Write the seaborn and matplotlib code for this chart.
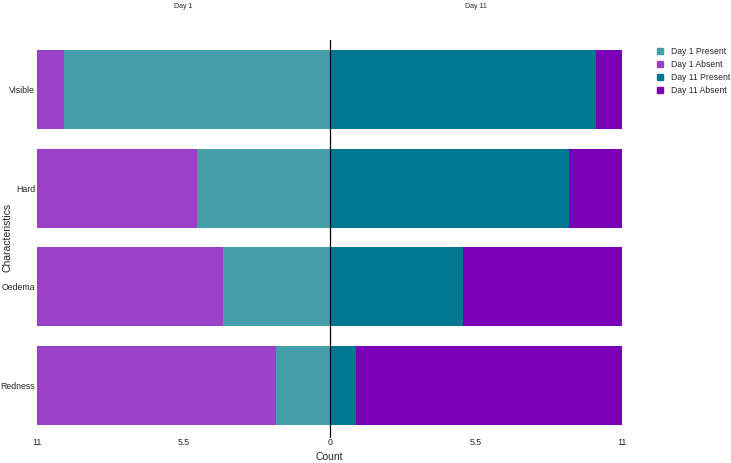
import numpy as np
import pandas as pd
import matplotlib.pyplot as plt
import seaborn as sns
from matplotlib.patches import Patch

# -------------------- DATA --------------------
characteristics = ["Visible", "Hard", "Oedema", "Redness"]
day1_present = [10, 5, 4, 2]
day1_absent = [1, 6, 7, 9]
day11_present = [10, 9, 5, 1]
day11_absent = [1, 2, 6, 10]

col_d1_present = "#479EAB"
col_d1_absent = "#9B40C8"
col_d11_present = "#00788F"
col_d11_absent = "#7A00B8"

df = pd.DataFrame({
    "char": characteristics,
    "d1_present": day1_present,
    "d1_total": np.array(day1_present) + np.array(day1_absent),
    "d11_present": day11_present,
    "d11_total": np.array(day11_present) + np.array(day11_absent),
})
df["d1_present_neg"] = -df["d1_present"]
df["d1_total_neg"] = -df["d1_total"]

# -------------------- PLOT --------------------
sns.set_style("white")
plt.rcParams["font.family"] = ["Liberation Sans", "DejaVu Sans"]

fig = plt.figure(figsize=(7.31, 4.63), dpi=100)
ax = fig.add_axes([0.0506, 0.0605, 0.8005, 0.853])

kw = dict(y="char", orient="h", width=0.8, ax=ax, linewidth=0, order=characteristics)
sns.barplot(data=df, x="d1_total_neg", color=col_d1_absent, saturation=1, **kw)
sns.barplot(data=df, x="d1_present_neg", color=col_d1_present, saturation=1, **kw)
sns.barplot(data=df, x="d11_total", color=col_d11_absent, saturation=1, **kw)
sns.barplot(data=df, x="d11_present", color=col_d11_present, saturation=1, **kw)

ax.set_xlim(-11, 11)
ax.set_ylim(3.5, -0.5)
ax.set_xticks([-11, -5.5, 0, 5.5, 11])
ax.set_xticklabels(["11", "5.5", "0", "5.5", "11"])
ax.tick_params(axis="both", labelsize=6.3, length=0)
ax.tick_params(axis="y", pad=1.5)
ax.tick_params(axis="x", pad=2.5)
ax.set_xlabel("Count", fontsize=7.5)
ax.set_ylabel("Characteristics", fontsize=7.5)
ax.xaxis.set_label_coords(0.5, -0.042)
ax.yaxis.set_label_coords(-0.041, 0.5)
for s in ax.spines.values():
    s.set_visible(False)

ax.axvline(0, ymin=-0.006, ymax=1, color="black", linewidth=0.9, clip_on=False)

ax.text(-5.5, -0.5 - 0.34, "Day 1", ha="center", va="center", fontsize=5)
ax.text(5.5, -0.5 - 0.34, "Day 11", ha="center", va="center", fontsize=5)

handles = [
    Patch(color=col_d1_present, label="Day 1 Present"),
    Patch(color=col_d1_absent, label="Day 1 Absent"),
    Patch(color=col_d11_present, label="Day 11 Present"),
    Patch(color=col_d11_absent, label="Day 11 Absent"),
]
fig.legend(handles=handles, loc="upper left", bbox_to_anchor=(0.888, 0.915),
           frameon=False, fontsize=6.2, handlelength=0.75, handleheight=0.75,
           handletextpad=0.9, labelspacing=0.45)

plt.savefig("out.png", dpi=100)
plt.close()
